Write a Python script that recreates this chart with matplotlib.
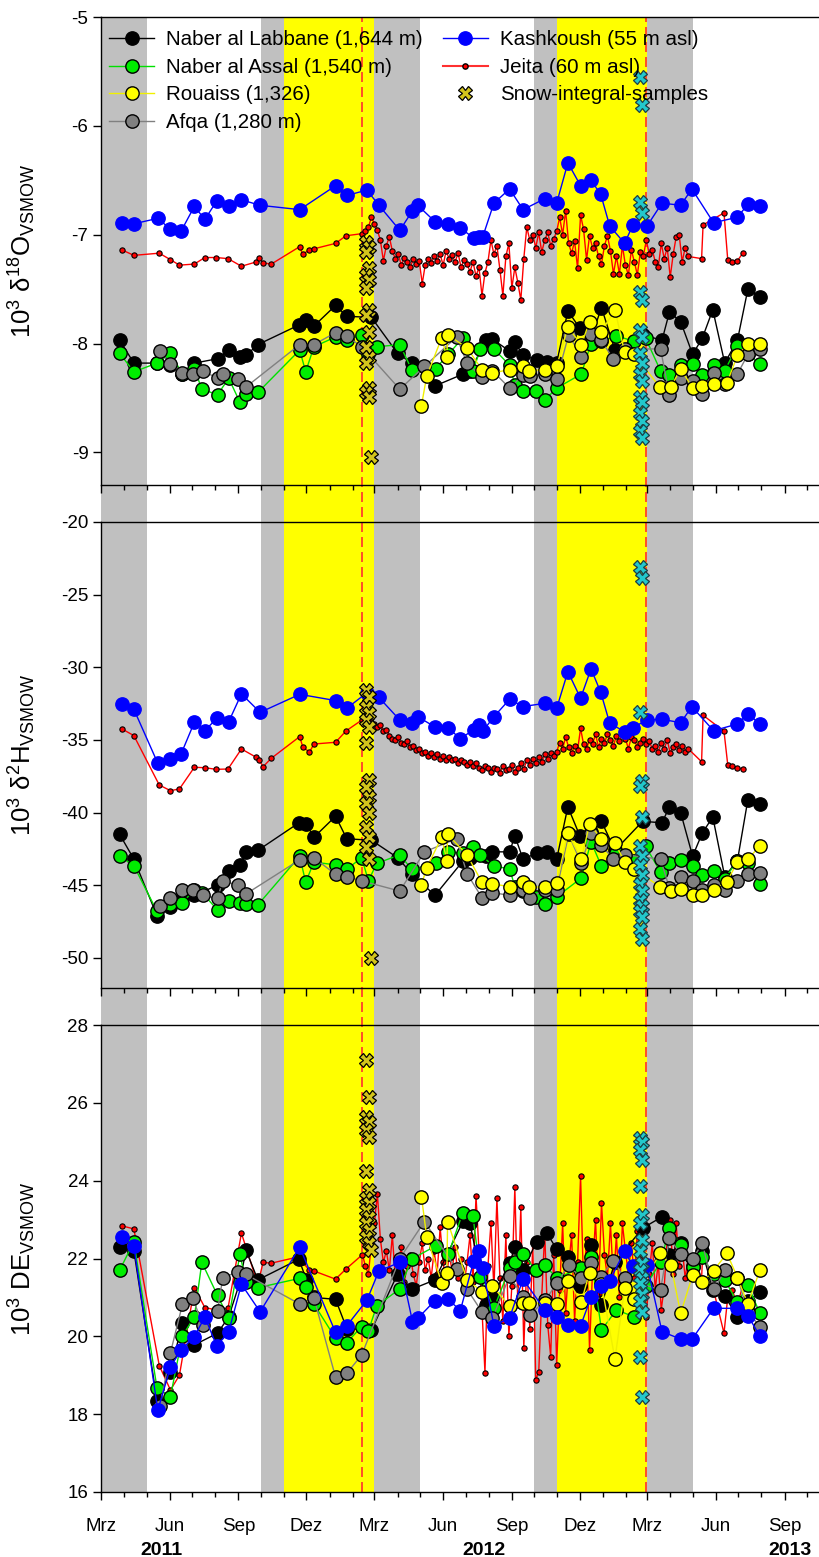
import numpy as np
import pandas as pd
import matplotlib
matplotlib.use("Agg")
import matplotlib.pyplot as plt
import matplotlib.dates as mdates
from matplotlib.lines import Line2D
from matplotlib.ticker import FuncFormatter

plt.rcParams['font.family'] = ['Liberation Sans', 'DejaVu Sans']
plt.rcParams['mathtext.default'] = 'regular'

# ---------------- data ----------------
# Naber al Labbane
lab_dates = ["2011-03-26","2011-04-14","2011-05-15","2011-06-02","2011-06-18","2011-07-04","2011-08-04","2011-08-19","2011-09-03","2011-09-11",
             "2011-09-27","2011-11-21","2011-12-01","2011-12-11","2012-01-09","2012-01-24","2012-02-26","2012-04-01","2012-04-20","2012-05-21",
             "2012-06-28","2012-07-07","2012-07-29","2012-08-06","2012-08-29","2012-09-05","2012-09-16","2012-10-04","2012-10-18","2012-10-31",
             "2012-11-15","2012-12-01","2012-12-16","2012-12-30","2013-01-17","2013-02-23","2013-03-21","2013-03-31","2013-04-15","2013-05-01",
             "2013-05-14","2013-05-28","2013-06-13","2013-06-30","2013-07-14","2013-07-30"]
lab_o18 = [-7.97,-8.18,-8.18,-8.20,-8.28,-8.18,-8.14,-8.06,-8.12,-8.11, -8.01,-7.83,-7.78,-7.84,-7.65,-7.75,-7.76,-8.09,-8.18,-8.39,
           -8.28,-8.25,-7.97,-7.96,-8.07,-7.99,-8.11,-8.15,-8.17,-8.18, -7.70,-7.86,-7.95,-7.67,-8.06,-7.92,-7.97,-7.71,-7.80,-8.10,
           -7.95,-7.69,-8.18,-7.97,-7.50,-7.57]
lab_h2 = [-41.5,-43.2,-47.1,-46.5,-45.9,-45.7,-45.0,-44.0,-43.6,-42.7, -42.6,-40.7,-40.8,-41.7,-40.25,-41.8,-41.9,-43.1,-44.2,-45.7,
          -43.3,-43.1,-43.0,-42.7,-42.7,-41.6,-43.2,-42.8,-42.7,-43.2, -39.6,-41.6,-41.3,-40.6,-42.6,-40.6,-40.7,-39.6,-40.0,-43.0,
          -41.4,-40.3,-44.4,-43.3,-39.1,-39.4]
lab_de = [22.30,22.20,18.35,19.09,20.35,19.78,20.08,20.50,21.40,22.22, 21.45,21.98,21.45,21.00,20.95,20.20,20.16,21.60,21.21,21.45,
          22.97,22.90,20.80,21.00,21.88,22.30,21.70,22.43,22.65,22.24, 22.04,21.30,22.35,20.81,21.90,22.78,23.07,22.10,22.40,21.80,
          22.18,21.20,21.04,20.50,20.90,21.15]

# Naber al Assal
ass_dates = ["2011-03-26","2011-04-14","2011-05-15","2011-06-02","2011-06-18","2011-07-04","2011-07-14","2011-08-04","2011-08-19","2011-09-03",
             "2011-09-11","2011-09-27","2011-11-22","2011-11-30","2011-12-11","2012-01-09","2012-01-24","2012-02-13","2012-02-22","2012-03-04",
             "2012-04-04","2012-04-20","2012-05-22","2012-06-08","2012-06-27","2012-07-11","2012-07-21","2012-08-08","2012-08-29","2012-09-05",
             "2012-09-16","2012-10-03","2012-10-15","2012-10-31","2012-12-03","2012-12-16","2012-12-30","2013-01-19","2013-02-12","2013-02-27",
             "2013-03-19","2013-03-31","2013-04-15","2013-05-01","2013-05-14","2013-05-29","2013-06-13","2013-06-30","2013-07-14","2013-07-30"]
ass_o18 = [-8.09,-8.26,-8.18,-8.09,-8.28,-8.23,-8.42,-8.47,-8.32,-8.54, -8.46,-8.45,-8.06,-8.26,-8.03,-7.94,-7.97,-7.92,-8.10,-8.03,
           -8.01,-8.24,-8.23,-8.10,-7.95,-8.25,-8.05,-8.05,-8.20,-8.38, -8.44,-8.44,-8.52,-8.41,-8.28,-8.00,-7.98,-7.93,-7.98,-7.95,
           -8.25,-8.29,-8.20,-8.19,-8.29,-8.20,-8.25,-8.02,-8.10,-8.19]
ass_h2 = [-43.0,-43.65,-46.8,-46.3,-46.2,-45.3,-45.5,-46.7,-46.1,-46.2, -46.3,-46.35,-43.0,-44.8,-43.4,-43.6,-43.9,-43.1,-44.7,-43.5,
          -42.9,-43.9,-43.5,-42.7,-42.8,-42.4,-42.9,-43.7,-43.85,-45.1, -45.4,-45.8,-46.3,-45.8,-44.5,-42.0,-43.7,-42.8,-43.3,-42.3,
          -44.1,-43.5,-43.25,-43.7,-44.3,-44.0,-44.55,-43.3,-43.5,-44.9]
ass_de = [21.70,22.43,18.67,18.45,20.01,20.50,21.90,21.05,20.46,22.11, 21.40,21.25,21.49,21.27,20.83,19.95,19.84,20.25,20.14,20.78,
          21.22,21.99,22.32,22.11,23.16,23.09,21.53,20.72,21.75,21.90, 22.11,21.70,21.83,21.50,21.75,22.04,20.16,20.68,20.50,21.30,
          21.90,22.78,22.35,21.79,22.03,21.60,21.45,20.87,21.32,20.59]

# Rouaiss
rou_dates = ["2012-05-03","2012-05-10","2012-05-30","2012-06-06","2012-06-07","2012-07-03","2012-07-23","2012-08-06","2012-08-29","2012-09-16",
             "2012-09-24","2012-10-16","2012-10-31","2012-11-15","2012-12-03","2012-12-14","2012-12-30","2013-01-17","2013-01-30","2013-02-12",
             "2013-03-18","2013-04-02","2013-04-15","2013-05-01","2013-05-14","2013-05-29","2013-06-16","2013-06-30","2013-07-14","2013-07-30"]
rou_o18 = [-8.57,-8.30,-7.95,-8.12,-7.92,-8.04,-8.24,-8.27,-8.24,-8.21, -8.25,-8.24,-8.21,-7.85,-8.01,-7.80,-7.89,-7.69,-8.08,-8.10,
           -8.40,-8.40,-8.23,-8.41,-8.39,-8.37,-8.36,-8.11,-8.00,-8.00]
rou_h2 = [-44.97,-43.8,-41.7,-43.3,-41.5,-42.9,-44.8,-44.9,-45.1,-44.8, -45.15,-45.1,-44.85,-41.4,-43.2,-40.8,-41.8,-42.1,-43.4,-43.85,
          -45.1,-45.4,-45.25,-45.7,-45.7,-45.3,-44.75,-43.4,-43.2,-42.3]
rou_de = [23.59,22.56,21.38,21.64,22.95,21.45,21.15,21.29,20.78,20.86, 20.85,20.85,20.83,21.43,20.89,21.64,21.34,19.41,21.23,20.95,
          22.13,21.83,20.59,21.58,21.39,21.69,22.13,21.51,20.83,21.70]

# Afqa
afq_dates = ["2011-05-19","2011-06-02","2011-06-18","2011-07-02","2011-07-15","2011-08-04","2011-08-11","2011-09-01","2011-09-11","2011-11-22",
             "2011-12-11","2012-01-09","2012-01-24","2012-02-13","2012-04-04","2012-05-07","2012-06-19","2012-07-03","2012-07-23","2012-08-06",
             "2012-08-29","2012-09-16","2012-09-25","2012-10-16","2012-10-31","2012-11-16","2012-12-03","2012-12-16","2012-12-29","2013-01-15",
             "2013-01-30","2013-03-19","2013-03-31","2013-04-15","2013-05-01","2013-05-14","2013-05-29","2013-06-14","2013-06-30","2013-07-14",
             "2013-07-30"]
afq_o18 = [-8.07,-8.19,-8.27,-8.28,-8.25,-8.32,-8.28,-8.33,-8.40,-8.01, -8.01,-7.90,-7.93,-8.03,-8.42,-8.21,-7.94,-8.18,-8.31,-8.25,
           -8.41,-8.29,-8.30,-8.28,-8.33,-7.92,-8.12,-7.91,-7.97,-8.14, -8.05,-8.05,-8.47,-8.32,-8.34,-8.46,-8.27,-8.37,-8.28,-8.10,-8.05]
afq_h2 = [-46.4,-45.9,-45.3,-45.3,-45.7,-45.9,-44.7,-45.0,-45.6,-43.25, -43.1,-44.25,-44.4,-44.7,-45.4,-42.7,-41.8,-44.2,-45.85,-45.5,
          -45.7,-45.3,-45.85,-45.3,-45.3,-41.5,-43.5,-41.4,-42.2,-43.2, -42.9,-43.2,-45.2,-44.45,-44.7,-45.3,-44.95,-45.3,-44.7,-44.2,-44.15]
afq_de = [18.20,19.58,20.82,20.98,20.29,20.65,21.51,21.66,21.59,20.83, 20.99,18.95,19.05,19.52,22.00,22.95,21.72,21.21,20.63,20.46,
          21.55,21.02,20.55,20.93,21.36,21.83,21.49,21.88,21.53,21.94, 21.49,21.19,22.52,22.11,21.99,22.39,21.21,21.70,21.50,20.63,20.25]

# Kashkoush
kas_dates = ["2011-03-29","2011-04-14","2011-05-16","2011-06-02","2011-06-16","2011-07-04","2011-07-18","2011-08-03","2011-08-19","2011-09-05",
             "2011-09-30","2011-11-22","2012-01-09","2012-01-24","2012-02-20","2012-03-07","2012-04-04","2012-04-21","2012-04-28","2012-05-21",
             "2012-06-08","2012-06-24","2012-07-12","2012-07-19","2012-07-24","2012-08-08","2012-08-29","2012-09-16","2012-10-15","2012-10-31",
             "2012-11-15","2012-12-02","2012-12-16","2012-12-29","2013-01-10","2013-01-30","2013-02-10","2013-03-01","2013-03-21","2013-04-15",
             "2013-04-30","2013-05-29","2013-06-30","2013-07-14","2013-07-30"]
kas_o18 = [-6.89,-6.90,-6.85,-6.95,-6.97,-6.74,-6.86,-6.69,-6.74,-6.68, -6.73,-6.77,-6.55,-6.64,-6.59,-6.73,-6.96,-6.78,-6.73,-6.88,
           -6.90,-6.94,-7.03,-7.02,-7.02,-6.71,-6.58,-6.77,-6.67,-6.71, -6.34,-6.55,-6.50,-6.63,-6.92,-7.08,-6.91,-6.92,-6.71,-6.73,
           -6.58,-6.89,-6.84,-6.72,-6.74]
kas_h2 = [-32.55,-32.89,-36.60,-36.31,-35.99,-33.78,-34.36,-33.51,-33.74,-31.83, -33.10,-31.86,-32.29,-32.82,-31.75,-32.07,-33.63,-33.86,-33.4,-34.1,
          -34.2,-34.9,-34.3,-34.0,-34.4,-33.4,-32.2,-32.7,-32.48,-32.82, -30.30,-32.13,-30.11,-31.72,-33.85,-34.43,-34.15,-33.62,-33.58,-33.81,
          -32.71,-34.36,-33.9,-33.2,-33.9]
kas_de = [22.56,22.32,18.10,19.21,19.65,19.99,20.50,19.75,20.12,21.34, 20.63,22.29,20.10,20.27,20.93,21.68,21.90,20.38,20.46,20.92,
          20.95,20.66,21.94,22.18,21.75,20.27,20.48,21.47,20.68,20.50, 20.29,20.27,21.00,21.30,21.43,22.19,21.80,21.83,20.12,19.93,
          19.92,20.72,20.72,20.53,20.01]

# Jeita: sparse sampling before Feb 2012, every 4 days Feb 2012 - Apr 2013, sparse afterwards
jei_pre_dates = ["2011-03-29","2011-04-14","2011-05-18","2011-06-02","2011-06-14","2011-07-04","2011-07-18","2011-08-02","2011-08-18","2011-09-05",
                 "2011-09-25","2011-09-29","2011-10-04","2011-10-15","2011-11-22","2011-11-26","2011-12-05","2011-12-11","2012-01-09","2012-01-23"]
jei_pre_o18 = [-7.14,-7.19,-7.17,-7.23,-7.28,-7.27,-7.21,-7.21,-7.22,-7.29, -7.25,-7.21,-7.26,-7.27,-7.11,-7.18,-7.14,-7.13,-7.08,-7.01]
jei_pre_h2 = [-34.24,-34.70,-38.10,-38.49,-38.37,-36.88,-36.91,-37.02,-37.00,-35.62, -36.2,-36.4,-36.84,-36.26,-34.77,-35.46,-35.85,-35.28,-35.16,-34.38]
jei_pre_de = [22.84,22.76,19.25,18.62,19.00,21.25,20.74,20.68,20.72,22.65, 21.45,21.50,21.90,21.88,22.05,21.90,21.70,21.68,21.47,21.73]

jei_dense_start = "2012-02-14"
jei_dense_step_days = 4
jei_dense_o18 = [-6.99,-6.97,-6.93,-6.84,-6.90, -6.96,-7.05,-7.24,-7.10,-7.02, -7.15,-7.22,-7.18,-7.28,-7.21, -7.25,-7.30,-7.22,-7.27,-7.24,
                 -7.45,-7.28,-7.22,-7.26,-7.20, -7.24,-7.18,-7.28,-7.15,-7.22, -7.19,-7.25,-7.17,-7.30,-7.23, -7.27,-7.34,-7.25,-7.38,-7.30,
                 -7.56,-7.35,-7.25,-7.05,-7.18, -7.10,-7.32,-7.56,-7.20,-7.08, -7.49,-7.30,-7.44,-7.60,-7.22, -6.93,-7.05,-7.00,-7.12,-6.98,
                 -7.16,-7.05,-6.98,-7.10,-7.04, -6.97,-6.84,-7.00,-6.78,-7.08, -7.17,-7.06,-7.31,-6.82,-6.95, -7.23,-7.01,-7.12,-7.08,-7.20,
                 -7.27,-7.10,-7.01,-7.15,-7.36, -7.20,-7.36,-7.10,-7.28,-7.37, -7.14,-7.25,-7.37,-7.16,-7.20, -7.05,-7.18,-7.14,-7.25,-7.30,
                 -7.08,-7.22,-7.12,-7.39,-7.18, -7.02,-7.00,-7.25,-7.12,-7.20]
jei_dense_h2 = [-33.6,-33.4,-33.2,-33.5,-33.9, -34.1,-34.0,-34.4,-34.3,-34.7, -34.9,-35.0,-34.8,-35.2,-35.3, -35.1,-35.5,-35.4,-35.7,-35.6,
                -35.9,-35.8,-36.1,-35.9,-36.2, -36.0,-36.3,-36.1,-36.4,-36.2, -36.4,-36.3,-36.6,-36.4,-36.5, -36.7,-36.5,-36.8,-36.6,-36.9,
                -37.1,-36.8,-36.9,-37.2,-36.9, -37.0,-37.3,-36.8,-37.1,-37.0, -36.7,-37.2,-36.9,-36.6,-37.0, -36.4,-36.7,-36.3,-36.6,-36.2,
                -36.5,-36.0,-36.3,-35.9,-36.1, -35.8,-35.2,-35.6,-34.8,-35.5, -35.9,-35.4,-35.7,-34.2,-35.3, -35.6,-35.0,-35.3,-34.6,-35.5,
                -34.9,-35.2,-34.6,-35.0,-35.4, -34.7,-35.1,-34.5,-34.9,-35.6, -34.8,-35.0,-35.5,-35.2,-34.9, -35.3,-35.1,-35.6,-35.4,-35.8,
                -35.2,-35.6,-35.0,-35.9,-35.5, -35.3,-35.7,-35.4,-35.8,-35.6]
jei_dense_de = [22.10,21.80,21.60,22.40,22.90, 23.66,22.50,21.90,22.20,21.70, 22.60,21.50,21.90,22.30,21.40, 21.80,22.10,21.60,21.30,21.90,
                22.40,21.70,22.00,21.50,22.20, 21.60,22.80,21.90,21.40,22.10, 21.70,22.30,21.50,22.00,21.30, 21.90,22.60,21.40,23.61,22.20,
                20.70,19.07,21.80,22.90,21.20, 23.55,21.50,20.40,22.60,20.00, 21.30,23.83,20.80,23.32,19.69, 21.90,20.20,22.40,18.88,19.09,
                21.00,22.70,20.30,19.48,22.10, 19.26,21.20,22.90,20.60,21.80, 22.60,20.40,21.90,24.12,21.30, 22.50,19.65,21.70,23.00,21.10,
                23.42,22.10,21.50,22.90,21.40, 22.60,21.00,22.90,22.20,21.60, 22.40,21.50,22.70,22.00,21.80, 20.50,21.60,22.40,21.20,21.90,
                20.68,21.28,22.50,22.99,21.60, 22.90,21.80,22.30,21.50,22.00]

jei_post_dates = ["2013-05-13","2013-05-15","2013-06-12","2013-06-17","2013-06-23","2013-06-30","2013-07-07"]
jei_post_o18 = [-7.22,-6.91,-6.80,-7.23,-7.25,-7.24,-7.17]
jei_post_h2 = [-36.5,-33.3,-34.4,-36.7,-36.8,-36.9,-37.0]
jei_post_de = [21.50,22.30,20.08,21.00,21.20,20.80,21.30]

# Snow integral samples (winter 2011/12 and 2012/13)
snow12_dates = ["2012-02-19","2012-02-23"] * 8 + ["2012-02-25"]
snow12_o18 = [-7.07,-7.11,-7.16,-7.31,-7.37,-7.42,-7.49,-7.69,-7.74,-7.89,-8.03,-8.12,-8.18,-8.41,-8.45,-8.49,-9.04]
snow12_h2 = [-31.56,-32.02,-32.71,-33.16,-33.62,-34.09,-35.23,-37.75,-38.21,-38.90,-39.36,-40.04,-40.97,-41.65,-42.4,-43.2,-50.0]
snow12_de = [27.10,26.16,25.64,25.52,25.30,25.11,24.26,23.76,23.55,23.42,23.25,23.07,22.90,22.73,22.56,22.39,22.22]

snow13_dates = ["2013-02-20","2013-02-22"] * 9
snow13_o18 = [-5.55,-5.81,-6.70,-6.80,-7.53,-7.60,-7.88,-7.94,-8.09,-8.18,-8.28,-8.34,-8.49,-8.54,-8.64,-8.71,-8.80,-8.87]
snow13_h2 = [-23.07,-23.87,-33.05,-37.8,-38.2,-40.3,-42.3,-43.0,-43.6,-44.3,-44.9,-45.4,-46.0,-46.4,-46.8,-47.2,-48.0,-48.7]
snow13_de = [25.09,25.00,24.79,24.53,23.86,23.12,22.90,22.48,22.20,21.88,21.70,21.50,21.36,21.10,20.90,20.63,19.48,18.45]

# seasonal shading: (start, end, colour)
bands = [("2011-02-01", "2011-05-01", "#c0c0c0"),
         ("2011-10-01", "2011-11-01", "#c0c0c0"),
         ("2011-11-01", "2012-03-01", "#ffff00"),
         ("2012-03-01", "2012-05-01", "#c0c0c0"),
         ("2012-10-01", "2012-11-01", "#c0c0c0"),
         ("2012-11-01", "2013-03-01", "#ffff00"),
         ("2013-03-01", "2013-05-01", "#c0c0c0")]
snow_lines = ["2012-02-14", "2013-02-28"]

month_names = {3: "Mrz", 6: "Jun", 9: "Sep", 12: "Dez"}
year_labels = [("2011", "2011-05-21"), ("2012", "2012-07-25"), ("2013", "2013-09-09")]

# ---------------- figure ----------------
W, H = 819, 1557
fig = plt.figure(figsize=(W / 100, H / 100), dpi=100)

def box(top, bottom, left=101, right=819):
    return [left / W, 1 - bottom / H, (right - left) / W, (bottom - top) / H]

x0 = mdates.date2num(pd.Timestamp("2011-03-01"))
x1 = x0 + 718 / 0.747

ax_bg = fig.add_axes(box(17, 1492), zorder=0)
ax_bg.set_xlim(x0, x1)
ax_bg.set_ylim(0, 1)
ax_bg.axis('off')
for s, e, c in bands:
    ax_bg.axvspan(pd.Timestamp(s), pd.Timestamp(e), color=c, lw=0)
for d in snow_lines:
    ax_bg.axvline(pd.Timestamp(d), color='#ff3030', lw=1.2, ls=(0, (6, 3)))

ax1 = fig.add_axes(box(17, 485), zorder=2)
ax2 = fig.add_axes(box(522, 988), zorder=2)
ax3 = fig.add_axes(box(1025, 1492), zorder=2)

def td(lst):
    return pd.to_datetime(lst)

jei_dense_dates = pd.date_range(jei_dense_start, periods=len(jei_dense_o18), freq=f"{jei_dense_step_days}D")
jei_dates = td(jei_pre_dates).append(jei_dense_dates).append(td(jei_post_dates))

big = dict(marker='o', ms=9.6, mec='black', mew=1.0, lw=1.0)
series = [
    ("jeita", jei_dates, [jei_pre_o18 + jei_dense_o18 + jei_post_o18, jei_pre_h2 + jei_dense_h2 + jei_post_h2, jei_pre_de + jei_dense_de + jei_post_de],
     dict(color='#ff0000', marker='o', ms=3.8, mfc='#ff0000', mec='black', mew=0.8, lw=1.0)),
    ("lab", td(lab_dates), [lab_o18, lab_h2, lab_de], dict(color='black', mfc='black', **big)),
    ("ass", td(ass_dates), [ass_o18, ass_h2, ass_de], dict(color='#00e000', mfc='#00ee00', **big)),
    ("afq", td(afq_dates), [afq_o18, afq_h2, afq_de], dict(color='#808080', mfc='#808080', **big)),
    ("rou", td(rou_dates), [rou_o18, rou_h2, rou_de], dict(color='#f0f000', mfc='#ffff00', **big)),
    ("kas", td(kas_dates), [kas_o18, kas_h2, kas_de], dict(color='#0000ff', marker='o', ms=9.6, mfc='#0000ff', mec='#0000ff', mew=1.0, lw=1.0)),
]

axes = [ax1, ax2, ax3]
for k, ax in enumerate(axes):
    for name, dts, vals, st in series:
        ax.plot(dts, vals[k], zorder=3, **st)
    s12 = [snow12_o18, snow12_h2, snow12_de][k]
    s13 = [snow13_o18, snow13_h2, snow13_de][k]
    ax.plot(td(snow12_dates), s12, ls='none', marker='X', ms=9.5, mfc='#d2c41c', mec='black', mew=0.9, zorder=5)
    ax.plot(td(snow13_dates), s13, ls='none', marker='X', ms=9.5, mfc='#22c8cc', mec='#1b3f46', mew=0.9, zorder=5)

ylims = [(-9.3, -5), (-52.07, -20), (16, 28)]
yticks = [np.arange(-9, -4.9, 1), np.arange(-50, -19.9, 5), np.arange(16, 28.1, 2)]
ylabels = ["10$^3$ δ$^{18}$O$_{VSMOW}$", "10$^3$ δ$^2$H$_{VSMOW}$", "10$^3$ DE$_{VSMOW}$"]

for ax, yl, yt, lab in zip(axes, ylims, yticks, ylabels):
    ax.set_facecolor('none')
    ax.set_xlim(x0, x1)
    ax.set_ylim(*yl)
    ax.set_yticks(yt)
    ax.set_yticklabels([f"{v:g}" for v in yt])
    ax.spines['right'].set_visible(False)
    for sp in ['top', 'left', 'bottom']:
        ax.spines[sp].set_linewidth(1.0)
    ax.xaxis.set_major_locator(mdates.MonthLocator(bymonth=[3, 6, 9, 12]))
    ax.xaxis.set_minor_locator(mdates.MonthLocator())
    ax.tick_params(axis='both', which='major', direction='out', length=5.5, width=1.0, labelsize=13.5)
    ax.tick_params(axis='x', which='minor', direction='out', length=3.5, width=1.0)
    ax.set_ylabel(lab, fontsize=18.5)
    ax.yaxis.set_label_coords(-0.088, 0.5)

ax1.tick_params(axis='x', labelbottom=False)
ax2.tick_params(axis='x', labelbottom=False)
ax3.xaxis.set_major_formatter(FuncFormatter(lambda v, p: month_names[mdates.num2date(v).month]))
ax3.tick_params(axis='x', which='major', pad=13)

for txt, d in year_labels:
    ax3.text(pd.Timestamp(d), -0.126, txt, transform=ax3.get_xaxis_transform(), ha='center', va='center',
             fontsize=14, fontweight='bold')

handles = [
    Line2D([], [], color='black', marker='o', ms=9.6, mfc='black', mec='black', lw=1.0),
    Line2D([], [], color='#00e000', marker='o', ms=9.6, mfc='#00ee00', mec='black', lw=1.0),
    Line2D([], [], color='#f0f000', marker='o', ms=9.6, mfc='#ffff00', mec='black', lw=1.0),
    Line2D([], [], color='#808080', marker='o', ms=9.6, mfc='#808080', mec='black', lw=1.0),
    Line2D([], [], color='#0000ff', marker='o', ms=9.6, mfc='#0000ff', mec='#0000ff', lw=1.0),
    Line2D([], [], color='#ff3030', marker='o', ms=3.8, mfc='#ff0000', mec='black', lw=1.5),
    Line2D([], [], ls='none', marker='X', ms=9.5, mfc='#d2c41c', mec='black', mew=0.9),
]
labels = ["Naber al Labbane (1,644 m)", "Naber al Assal (1,540 m)", "Rouaiss (1,326)", "Afqa (1,280 m)",
          "Kashkoush (55 m asl)", "Jeita (60 m asl)", "Snow-integral-samples"]
leg = ax1.legend(handles, labels, ncol=2, loc='upper left', bbox_to_anchor=(0.011, 0.972), frameon=False,
                 fontsize=14.8, handlelength=2.2, handletextpad=0.6, columnspacing=0.95, labelspacing=0.42,
                 borderpad=0, borderaxespad=0, numpoints=1)
leg.set_zorder(10)

fig.savefig("out.png", dpi=100)
